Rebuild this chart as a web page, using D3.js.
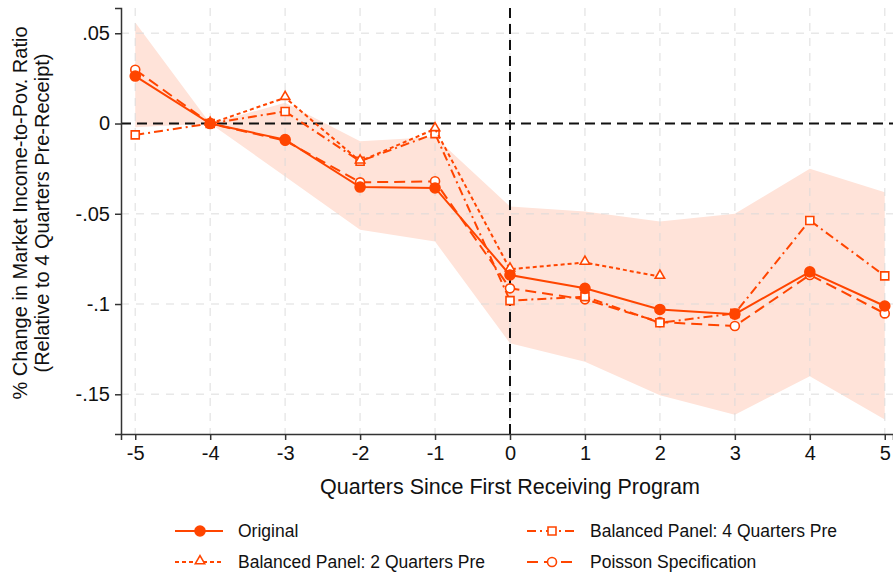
<!DOCTYPE html>
<html>
<head>
<meta charset="utf-8">
<script src="https://cdn.jsdelivr.net/npm/d3@7"></script>
<style>
  body { margin: 0; background: #fff; }
  svg { display: block; font-family: "Liberation Sans", Arial, Helvetica, sans-serif; }
</style>
</head>
<body>
<svg id="chart" width="893" height="576"></svg>
<script>
// event time (quarters since first receiving program)
const quarters = [-5, -4, -3, -2, -1, 0, 1, 2, 3, 4, 5]

const original = [0.0263, 0, -0.0089, -0.0352, -0.0357, -0.0839, -0.0913, -0.1030, -0.1056, -0.0822, -0.1011]
const ciUpper = [0.0560, 0, 0.0115, -0.0098, -0.0074, -0.0460, -0.0487, -0.0543, -0.0500, -0.0250, -0.0381]
const ciLower = [-0.0020, 0, -0.0293, -0.0589, -0.0654, -0.1217, -0.1320, -0.1506, -0.1613, -0.1400, -0.1640]

// balanced panel 2 quarters pre only runs -4..2
const balanced2 = [null, 0, 0.0143, -0.0209, -0.0030, -0.0807, -0.0770, -0.0848, null, null, null]
const balanced4 = [-0.0063, 0, 0.0067, -0.0209, -0.0056, -0.0981, -0.0959, -0.1104, -0.1052, -0.0537, -0.0844]
const poisson = [0.0298, 0, -0.0095, -0.0326, -0.0320, -0.0913, -0.0974, -0.1100, -0.1122, -0.0839, -0.1052]

const yTicks = [0.05, 0, -0.05, -0.1, -0.15]
const yTickLabels = ['.05', '0', '-.05', '-.1', '-.15']

const color = '#ff4500'
const bandColor = '#ffe3d9'

const series = [
  {name: 'Original', values: original, dash: null, marker: 'circle', fill: true},
  {name: 'Balanced Panel: 2 Quarters Pre', values: balanced2, dash: '4,3', marker: 'triangle', fill: false},
  {name: 'Balanced Panel: 4 Quarters Pre', values: balanced4, dash: '9,4,2,4', marker: 'square', fill: false},
  {name: 'Poisson Specification', values: poisson, dash: '11,6', marker: 'circle', fill: false}
]

const plot = {left: 121, right: 893, top: 8, bottom: 434}

const x = d3.scaleLinear().domain([-5.19, 5.11]).range([plot.left, plot.right])
const y = d3.scaleLinear().domain([0.064, -0.172]).range([plot.top, plot.bottom])

const svg = d3.select('#chart')

// confidence band
const band = d3.area()
  .x((d, i) => x(quarters[i]))
  .y0((d, i) => y(ciLower[i]))
  .y1((d, i) => y(ciUpper[i]))
svg.append('path').datum(ciUpper).attr('d', band).attr('fill', bandColor)

// gridlines
const grid = svg.append('g')
grid.selectAll('line.gx').data(quarters).enter().append('line')
  .attr('x1', d => x(d)).attr('x2', d => x(d))
  .attr('y1', plot.top).attr('y2', plot.bottom)
  .attr('stroke', '#d9d9d9').attr('stroke-opacity', 0.6).attr('stroke-width', 1.5)
  .attr('stroke-dasharray', '8,7')
grid.selectAll('line.gy').data(yTicks.filter(d => d !== 0)).enter().append('line')
  .attr('x1', plot.left).attr('x2', plot.right)
  .attr('y1', d => y(d)).attr('y2', d => y(d))
  .attr('stroke', '#d9d9d9').attr('stroke-opacity', 0.6).attr('stroke-width', 1.5)
  .attr('stroke-dasharray', '8,7')

// reference lines at zero
svg.append('line')
  .attr('x1', plot.left).attr('x2', plot.right)
  .attr('y1', y(0)).attr('y2', y(0))
  .attr('stroke', '#111').attr('stroke-width', 2).attr('stroke-dasharray', '10,6')
svg.append('line')
  .attr('x1', x(0)).attr('x2', x(0))
  .attr('y1', plot.top).attr('y2', plot.bottom)
  .attr('stroke', '#111').attr('stroke-width', 2).attr('stroke-dasharray', '10,6')

// axes
const yAxis = d3.axisLeft(y).tickValues(yTicks)
  .tickFormat((d, i) => yTickLabels[i]).tickSize(6).tickPadding(5)
const gy = svg.append('g').attr('transform', 'translate(' + plot.left + ',0)').call(yAxis)

const xAxis = d3.axisBottom(x).tickValues(quarters).tickFormat(d3.format('d')).tickSize(6).tickPadding(6)
const gx = svg.append('g').attr('transform', 'translate(0,' + plot.bottom + ')').call(xAxis)

;[gx, gy].forEach(g => {
  g.select('.domain').attr('stroke', '#333').attr('stroke-width', 1.5)
  g.selectAll('.tick line').attr('stroke', '#333').attr('stroke-width', 1.5)
  g.selectAll('text').attr('font-size', 20).attr('fill', '#111').style('font-family', 'Liberation Sans, Arial, sans-serif')
})
gx.selectAll('text').text(d => d < 0 ? '-' + Math.abs(d) : d)

// axis titles
svg.append('text')
  .attr('x', 510).attr('y', 494)
  .attr('text-anchor', 'middle').attr('font-size', 21.5).attr('fill', '#111')
  .text('Quarters Since First Receiving Program')
const yt = svg.append('g').attr('transform', 'translate(27,213) rotate(-90)')
yt.append('text').attr('x', 0).attr('y', 0)
  .attr('text-anchor', 'middle').attr('font-size', 20).attr('fill', '#111')
  .text('% Change in Market Income-to-Pov. Ratio')
yt.append('text').attr('x', 0).attr('y', 22)
  .attr('text-anchor', 'middle').attr('font-size', 20).attr('fill', '#111')
  .text('(Relative to 4 Quarters Pre-Receipt)')

// markers
function drawMarker (g, s, cx, cy) {
  const m = g.append(s.marker === 'circle' ? 'circle' : 'path')
  if (s.marker === 'circle') {
    m.attr('cx', cx).attr('cy', cy).attr('r', s.fill ? 5 : 4.5)
  } else if (s.marker === 'square') {
    m.attr('d', d3.symbol(d3.symbolSquare, 64)()).attr('transform', 'translate(' + cx + ',' + cy + ')')
  } else {
    m.attr('d', d3.symbol(d3.symbolTriangle, 38)()).attr('transform', 'translate(' + cx + ',' + (cy - 1) + ')')
  }
  m.attr('fill', s.fill ? color : '#fff').attr('stroke', color).attr('stroke-width', 1.6)
}

const line = d3.line()
  .defined(d => d.v !== null)
  .x(d => x(d.q)).y(d => y(d.v))

const lines = svg.append('g')
series.slice().reverse().forEach(s => {
  const pts = quarters.map((q, i) => ({q: q, v: s.values[i]}))
  lines.append('path').datum(pts).attr('d', line)
    .attr('fill', 'none').attr('stroke', color).attr('stroke-width', 2)
    .attr('stroke-dasharray', s.dash)
  pts.filter(d => d.v !== null).forEach(d => drawMarker(lines, s, x(d.q), y(d.v)))
})

// legend
const legendPos = [
  {lx: 175, tx: 238, cy: 531},
  {lx: 175, tx: 238, cy: 562},
  {lx: 527, tx: 590, cy: 531},
  {lx: 527, tx: 590, cy: 562}
]
const legend = svg.append('g')
series.forEach((s, i) => {
  const p = legendPos[i]
  legend.append('line')
    .attr('x1', p.lx).attr('x2', p.lx + 48).attr('y1', p.cy).attr('y2', p.cy)
    .attr('stroke', color).attr('stroke-width', 2).attr('stroke-dasharray', s.dash)
  drawMarker(legend, {marker: s.marker, fill: s.fill}, p.lx + 25, p.cy)
  legend.append('text').attr('x', p.tx).attr('y', p.cy).attr('dy', '0.35em')
    .attr('font-size', 17.5).attr('fill', '#111').text(s.name)
})
</script>
</body>
</html>
